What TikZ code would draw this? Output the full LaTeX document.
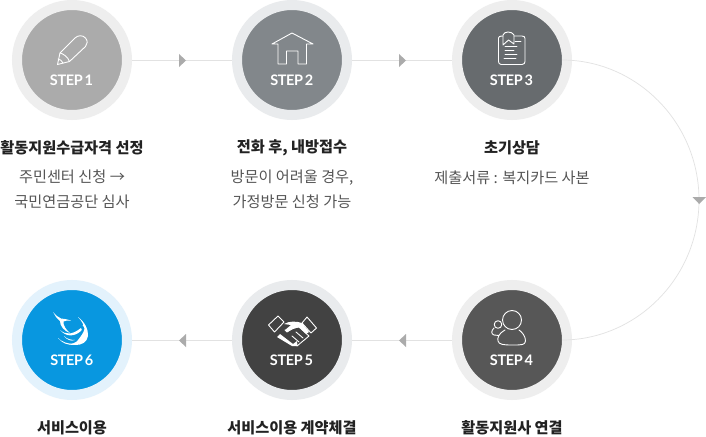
\documentclass[tikz,border=0pt]{standalone}
\usepackage{fontspec}
\setmainfont{Noto Sans CJK KR}
\newfontfamily\stepfont[LetterSpace=-2.5,WordSpace=0.55]{Lato}
\definecolor{ca}{HTML}{ABABAB}
\definecolor{cb}{HTML}{82878B}
\definecolor{cc}{HTML}{676B6E}
\definecolor{cd}{HTML}{575757}
\definecolor{ce}{HTML}{424242}
\definecolor{cf}{HTML}{0897E0}
\definecolor{ringg}{HTML}{EEEEEE}
\definecolor{ringb}{HTML}{E9EBED}
\definecolor{ringc}{HTML}{E3F2FC}
\definecolor{linec}{HTML}{E2E2E2}
\definecolor{tipc}{HTML}{ABABAB}
\definecolor{titlec}{HTML}{222222}
\definecolor{subc}{HTML}{555555}
\tikzset{
 x=1pt,y=-1pt,
 stepnode/.style={circle,minimum size=110pt,inner sep=0pt,line width=10pt,text=white},
 steplabel/.style={text=white,inner sep=0pt,font=\stepfont\bfseries\fontsize{14.5}{16}\selectfont},
 titletext/.style={text=titlec,inner sep=0pt,font=\bfseries\fontsize{15.2}{16}\selectfont},
 subtext/.style={text=subc,inner sep=0pt,align=center,font=\fontsize{15.2}{25}\selectfont},
 linkline/.style={draw=linec,line width=0.9pt},
 tipmark/.style={fill=tipc,draw=none},
 iconline/.style={draw=white,line width=0.9pt,line join=round,line cap=round,fill=none},
 iconfill/.style={fill=white,draw=none},
}
\begin{document}
\begin{tikzpicture}
\useasboundingbox (0,0) rectangle (706,436);
\fill[white] (0,0) rectangle (706,436);
% circles
\node[stepnode,draw=ringg,fill=ca] (s1) at (72,60) {};
\node[stepnode,draw=ringb,fill=cb] (s2) at (292,60) {};
\node[stepnode,draw=ringg,fill=cc] (s3) at (512,60) {};
\node[stepnode,draw=ringg,fill=cd] (s4) at (512,340) {};
\node[stepnode,draw=ringb,fill=ce] (s5) at (292,340) {};
\node[stepnode,draw=ringc,fill=cf] (s6) at (72,340) {};
% connectors
\draw[linkline] (s1.east) -- (s2.west);
\draw[linkline] (s2.east) -- (s3.west);
\draw[linkline] (s5.west) -- (s6.east);
\draw[linkline] (s4.west) -- (s5.east);
\draw[draw=linec,line width=0.7pt] (562,60) .. controls (636,60) and (699,122) .. (699,200)
  .. controls (699,278) and (636,340) .. (562,340);
% arrow tips
\fill[tipmark] (179,54) -- (186,60.5) -- (179,67) -- cycle;
\fill[tipmark] (399,54) -- (406,60.5) -- (399,67) -- cycle;
\fill[tipmark] (692.5,197) -- (706,197) -- (699.2,204) -- cycle;
\fill[tipmark] (406,334) -- (399,340.5) -- (406,347) -- cycle;
\fill[tipmark] (186,334) -- (179,340.5) -- (186,347) -- cycle;
% step labels
\node[steplabel] at (71.5,80.5) {STEP 1};
\node[steplabel] at (291.8,80.5) {STEP 2};
\node[steplabel] at (511.5,80.5) {STEP 3};
\node[steplabel] at (511.5,360.5) {STEP 4};
\node[steplabel] at (291.5,360.5) {STEP 5};
\node[steplabel] at (71.8,360.5) {STEP 6};
% texts
\node[titletext] at (72,148) {활동지원수급자격 선정};
\node[subtext] at (72,189.5) {주민센터 신청 →\\국민연금공단 심사};
\node[titletext] at (292,148) {전화 후, 내방접수};
\node[subtext] at (292,189.5) {방문이 어려울 경우,\\가정방문 신청 가능};
\node[titletext] at (512,148) {초기상담};
\node[subtext] at (512,178) {제출서류 : 복지카드 사본};
\node[titletext] at (72,428) {서비스이용};
\node[titletext] at (292,428) {서비스이용 계약체결};
\node[titletext] at (512,428) {활동지원사 연결};
% icon 1 pencil
\draw[iconline] (57.5,64.5) -- (60,53) -- (75,38) .. controls (78,35) and (83,35) .. (85.5,38) .. controls (88,41) and (87.5,44) .. (85.5,46.5) -- (69.5,61.5) -- cycle;
\draw[iconline] (60,53) .. controls (63,53.5) and (68,57) .. (69.5,61.5);
\draw[iconline] (58,59) .. controls (60,59) and (62,61) .. (63,63);
% icon 2 house
\draw[iconline] (272,44) -- (292,33) -- (313,44) -- (306.5,44) -- (306.5,64) -- (298,64) -- (298,51) -- (286.5,51) -- (286.5,64) -- (278,64) -- (278,44) -- cycle;
% icon 3 document
\draw[iconline] (514,36) -- (522,36) .. controls (524,36) and (525,37) .. (525,38.5) -- (525,61.5) .. controls (525,63) and (524,64.5) .. (522,64.5) -- (501,64.5) .. controls (499.5,64.5) and (498.5,63) .. (498.5,61.5) -- (498.5,38) .. controls (498.5,37) and (499.5,36) .. (503,36);
\draw[iconline] (503,45) -- (503,35) .. controls (504,31) and (512,31) .. (514,35) -- (514,44) -- (508.5,40) -- cycle;
\draw[iconline] (515,41) -- (521,41) (505,46) -- (517,46) (505,50) -- (514,50) (505,54) -- (517,54) (504,58) -- (516,58);
% icon 4 people
\draw[iconline] (512,320) circle (9.5);
\draw[iconline] (505,330) .. controls (499,333) and (497,338) .. (498,341) .. controls (499,344.5) and (503,345) .. (512,345) .. controls (522,345) and (525,345) .. (525.5,341) .. controls (525.5,336) and (522,332) .. (519,330);
\draw[iconline] (498,324.5) circle (3.8);
\draw[iconline] (494,328) .. controls (491,331) and (491,334) .. (494,335) -- (499,335.5);
% icon 5 handshake
\draw[iconline] (268.5,325) -- (278,316) -- (284,322) -- (274.5,332) -- cycle;
\draw[iconline] (316.5,328) -- (307,317) -- (302,323) -- (311,333) -- cycle;
\fill[iconfill] (284,324) .. controls (289,321) and (296,321) .. (302,323) -- (309,332) -- (306,334) -- (299,327) -- (293,329) -- (287,332) -- (285,330) -- (291,325) -- cycle;
\fill[iconfill] (277,337) -- (280,334) -- (293,344) -- (297,341) -- (297.5,346) -- (292,346) -- cycle;
\draw[iconline] (285,330) -- (287,332) -- (293,328) -- (299,327) -- (309,336) -- (297,346);
\draw[iconline] (292,336) -- (299,342) (296,332) -- (303,338);
% icon 6 swoosh
\fill[iconfill] (53,312) .. controls (55,315) and (58,317) .. (61,318.5) .. controls (64,318.5) and (67,319.5) .. (71,320.5) .. controls (68,320.5) and (65,320.5) .. (63.5,321.5)
 .. controls (63,325) and (66,330) .. (70,333) .. controls (64,331) and (60,326) .. (60,321) .. controls (57,318.5) and (54.5,315.5) .. (53,312) -- cycle;
\fill[iconfill] (78,317) .. controls (85,322) and (88.5,330) .. (88,336) .. controls (87,342) and (82,345) .. (76,345) .. controls (73,345) and (70,345) .. (68,344) .. controls (72,344) and (76,343) .. (78,340) .. controls (81,336) and (83.5,333) .. (84.5,329) .. controls (84,325) and (81.5,320.5) .. (78,317) -- cycle;
\fill[iconfill] (84,325.5) circle (1.4);
\fill[iconfill] (60,330) .. controls (66,335) and (72,335) .. (81,328) .. controls (82,329) and (82,330) .. (81,331) .. controls (74,337) and (66,337) .. (60,330) -- cycle;
\fill[iconfill] (58,338) .. controls (62,342) and (68,344) .. (74,344) .. controls (68,346) and (62,343) .. (58,338) -- cycle;
\fill[iconfill] (64,336) .. controls (67,339) and (71,340) .. (75,340) .. controls (71,341.5) and (67,340) .. (64,336) -- cycle;
\end{tikzpicture}
\end{document}
